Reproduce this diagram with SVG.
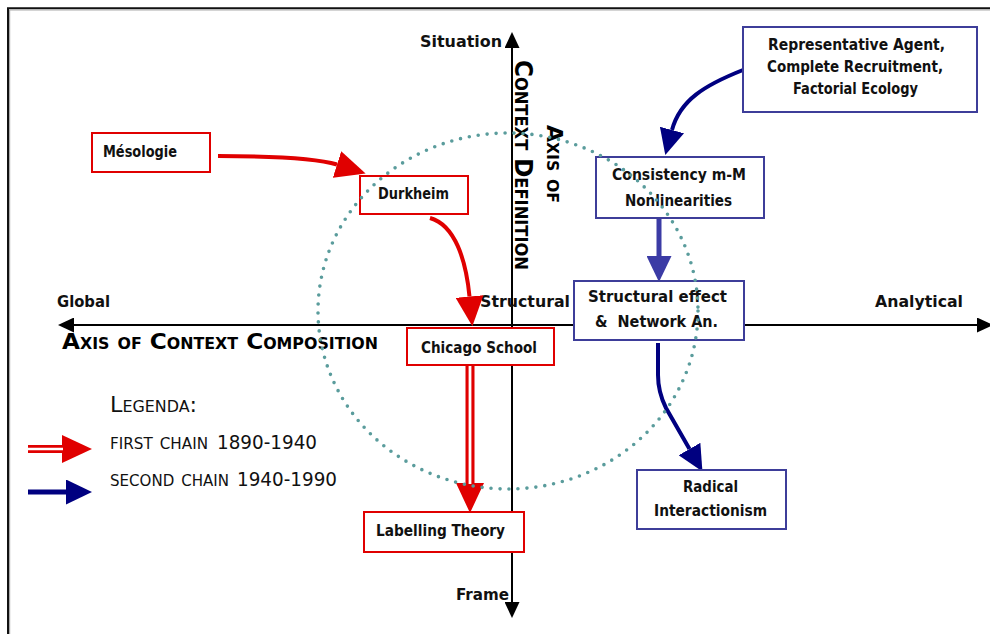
<svg xmlns="http://www.w3.org/2000/svg" width="990" height="634" viewBox="0 0 990 634">
<style>
.lbl{font-family:"Comic Sans MS","DejaVu Sans",sans-serif;font-weight:bold;fill:#111}
.box{font-family:"Comic Sans MS","DejaVu Sans",sans-serif;font-weight:bold;font-size:15px;fill:#111}
.sc{font-family:"DejaVu Sans",sans-serif;font-variant:small-caps;font-weight:bold;fill:#000}
.leg{font-family:"DejaVu Sans",sans-serif;fill:#111}
.rb{fill:#fff;stroke:#e00000;stroke-width:2}
.bb{fill:#fff;stroke:#3d3d99;stroke-width:2}
.axis{fill:none;stroke:#000;stroke-width:2}
</style>
<defs>
<marker id="axT" markerUnits="userSpaceOnUse" viewBox="0 0 16 15" markerWidth="16" markerHeight="15" refX="0" refY="7.5" orient="auto-start-reverse"><path d="M0,0 L16,7.5 L0,15z" fill="#000"/></marker>
<marker id="redT" markerUnits="userSpaceOnUse" viewBox="0 0 30 28" markerWidth="30" markerHeight="28" refX="0" refY="14" orient="auto"><path d="M0,0 L30,14 L0,28z" fill="#e00000"/></marker>
<marker id="navyT" markerUnits="userSpaceOnUse" viewBox="0 0 26 25" markerWidth="26" markerHeight="25" refX="0" refY="12.5" orient="auto"><path d="M0,0 L26,12.5 L0,25z" fill="#000080"/></marker>
<marker id="blueT" markerUnits="userSpaceOnUse" viewBox="0 0 26 25" markerWidth="26" markerHeight="25" refX="0" refY="12.5" orient="auto"><path d="M0,0 L26,12.5 L0,25z" fill="#3b3ba5"/></marker>
</defs>
<rect width="990" height="634" fill="#fff"/>
<g id="frame">
<path d="M8,634 V8.3 H990" fill="none" stroke="#111" stroke-width="2"/>
<path d="M9.6,634 V10 H990" fill="none" stroke="#aaa" stroke-width="1.2"/>
</g>
<g id="axes">
<path class="axis" d="M512,48 V602" marker-start="url(#axT)" marker-end="url(#axT)"/>
<path class="axis" d="M74,325 H977" marker-start="url(#axT)" marker-end="url(#axT)"/>
<text class="lbl" x="420" y="47" font-size="16.5" textLength="82" lengthAdjust="spacingAndGlyphs">Situation</text>
<text class="lbl" x="456" y="600" font-size="16.5" textLength="53" lengthAdjust="spacingAndGlyphs">Frame</text>
<text class="lbl" x="57" y="307" font-size="16.5" textLength="53" lengthAdjust="spacingAndGlyphs">Global</text>
<text class="lbl" x="875" y="307" font-size="16.5" textLength="88" lengthAdjust="spacingAndGlyphs">Analytical</text>
<text class="lbl" x="480" y="307" font-size="16.5" textLength="90" lengthAdjust="spacingAndGlyphs">Structural</text>
<text class="sc" x="62" y="349" font-size="22" textLength="316" lengthAdjust="spacingAndGlyphs">Axis of Context Composition</text>
<text class="sc" transform="translate(515,60) rotate(90)" font-size="24" textLength="210" lengthAdjust="spacingAndGlyphs">Context Definition</text>
<text class="sc" transform="translate(547,125) rotate(90)" font-size="21" textLength="78" lengthAdjust="spacingAndGlyphs">Axis of</text>
</g>
<g id="connectors" fill="none">
<path d="M218,156 Q310,156 337,164.5" stroke="#e00000" stroke-width="4" marker-end="url(#redT)"/>
<path d="M430,218 C455,225 466,260 469.5,296.5" stroke="#e00000" stroke-width="4" marker-end="url(#redT)"/>
<path d="M470,366 V483" stroke="#e00000" stroke-width="9" marker-end="url(#redT)"/>
<path d="M470,366 V484" stroke="#fff" stroke-width="2.8"/>
<path d="M743,70 C705,85 680,100 672,130" stroke="#000080" stroke-width="4" marker-end="url(#navyT)"/>
<path d="M659,218 V256" stroke="#3b3ba5" stroke-width="5" marker-end="url(#blueT)"/>
<path d="M658,343 L658,375 Q658,392 666,408 L689.5,449" stroke="#000080" stroke-width="4" marker-end="url(#navyT)"/>
</g>
<g id="mesologie">
<rect class="rb" x="92" y="133" width="118" height="39"/>
<text class="box" x="103" y="157" textLength="74" lengthAdjust="spacingAndGlyphs">Mésologie</text>
</g>
<g id="durkheim">
<rect class="rb" x="360" y="176" width="108" height="38"/>
<text class="box" x="378" y="199" textLength="71" lengthAdjust="spacingAndGlyphs">Durkheim</text>
</g>
<g id="chicago-school">
<rect class="rb" x="407" y="328" width="147" height="37"/>
<text class="box" x="421" y="353" textLength="116" lengthAdjust="spacingAndGlyphs">Chicago School</text>
</g>
<g id="labelling-theory">
<rect class="rb" x="364" y="512" width="160" height="40"/>
<text class="box" x="376" y="536" textLength="129" lengthAdjust="spacingAndGlyphs">Labelling Theory</text>
</g>
<g id="representative-agent">
<rect class="bb" x="743" y="27" width="234" height="85"/>
<text class="box" x="768" y="50" textLength="177" lengthAdjust="spacingAndGlyphs">Representative Agent,</text>
<text class="box" x="767" y="72" textLength="176" lengthAdjust="spacingAndGlyphs">Complete Recruitment,</text>
<text class="box" x="793" y="94" textLength="125" lengthAdjust="spacingAndGlyphs">Factorial Ecology</text>
</g>
<g id="consistency">
<rect class="bb" x="596" y="157" width="168" height="61"/>
<text class="box" x="612" y="180" textLength="134" lengthAdjust="spacingAndGlyphs">Consistency m-M</text>
<text class="box" x="625" y="206" textLength="107" lengthAdjust="spacingAndGlyphs">Nonlinearities</text>
</g>
<g id="structural-effect">
<rect class="bb" x="574" y="281" width="170" height="59"/>
<text class="box" x="588" y="302" textLength="139" lengthAdjust="spacingAndGlyphs">Structural effect</text>
<text class="box" x="595" y="327" textLength="123" lengthAdjust="spacingAndGlyphs" xml:space="preserve">&amp;  Network An.</text>
</g>
<g id="radical-interactionism">
<rect class="bb" x="637" y="470" width="149" height="59"/>
<text class="box" x="683" y="492" textLength="55" lengthAdjust="spacingAndGlyphs">Radical</text>
<text class="box" x="654" y="516" textLength="113" lengthAdjust="spacingAndGlyphs">Interactionism</text>
</g>
<g id="legend">
<text class="leg" x="110" y="412" font-size="21" style="font-variant:small-caps" textLength="87" lengthAdjust="spacingAndGlyphs">Legenda:</text>
<path d="M28,449 H62" stroke="#e00000" stroke-width="8" fill="none" marker-end="url(#redT)"/>
<path d="M28,449 H63" stroke="#fff" stroke-width="2.4" fill="none"/>
<text class="leg" x="110" y="449" font-size="22" style="font-variant:small-caps" textLength="98" lengthAdjust="spacingAndGlyphs">first chain</text>
<text class="leg" x="217" y="449" font-size="19" textLength="100" lengthAdjust="spacingAndGlyphs">1890-1940</text>
<path d="M28,492 H66" stroke="#000080" stroke-width="5" fill="none" marker-end="url(#navyT)"/>
<text class="leg" x="110" y="486" font-size="22" style="font-variant:small-caps" textLength="119" lengthAdjust="spacingAndGlyphs">second chain</text>
<text class="leg" x="237" y="486" font-size="19" textLength="100" lengthAdjust="spacingAndGlyphs">1940-1990</text>
</g>
<g id="context-circle">
<ellipse cx="508" cy="311" rx="190" ry="178" fill="none" stroke="#5a9c9c" stroke-width="3.6" stroke-dasharray="0 9" stroke-linecap="round"/>
</g>
</svg>
